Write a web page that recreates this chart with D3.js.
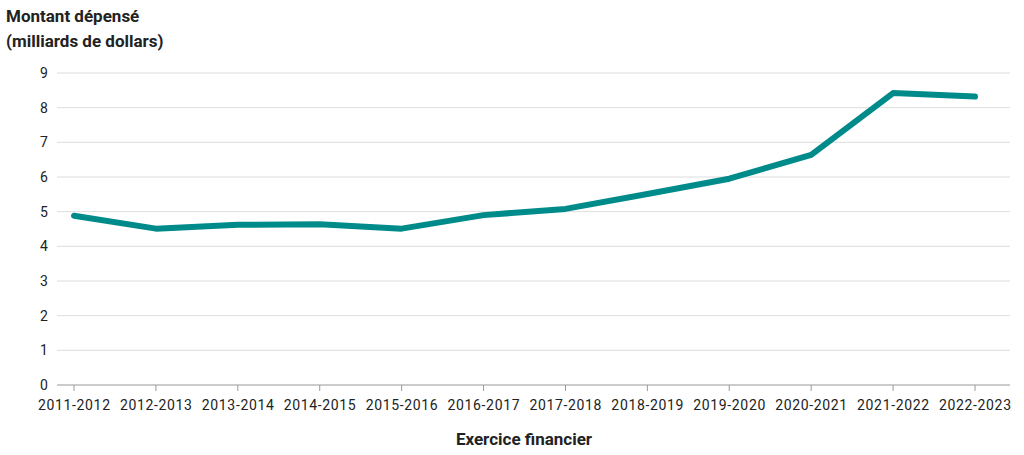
<!DOCTYPE html>
<html><head><meta charset="utf-8">
<script src="https://cdn.jsdelivr.net/npm/d3@7"></script>
<style>body{margin:0;background:#fff}svg{font-family:Roboto,"Open Sans",sans-serif}</style>
</head><body><svg id="c" width="1024" height="455"></svg>
<script>
const categories=["2011-2012","2012-2013","2013-2014","2014-2015","2015-2016","2016-2017","2017-2018","2018-2019","2019-2020","2020-2021","2021-2022","2022-2023"];
const values=[4.88,4.51,4.62,4.64,4.51,4.9,5.08,5.51,5.95,6.64,8.42,8.32];
const yTicks=[0,1,2,3,4,5,6,7,8,9];
const svg=d3.select("#c");
const x=d3.scalePoint().domain(categories).range([74,975]);
const y=d3.scaleLinear().domain([0,9]).range([385,73]);
const g=svg.append("g");
yTicks.forEach(t=>{
  g.append("line").attr("x1",57).attr("x2",1010).attr("y1",y(t)).attr("y2",y(t)).attr("stroke",t===0?"#999":"#ddd").attr("stroke-width",1);
  g.append("text").attr("x",44).attr("y",y(t)).attr("dy","0.35em").attr("text-anchor","middle").attr("font-size",14).attr("fill","#222").text(t);
});
categories.forEach(c=>{
  g.append("line").attr("x1",x(c)).attr("x2",x(c)).attr("y1",385).attr("y2",391).attr("stroke","#999");
  g.append("text").attr("x",x(c)).attr("y",410).attr("text-anchor","middle").attr("font-size",14).attr("fill","#222").attr("textLength",72).text(c);
});
g.append("path").datum(values).attr("fill","none").attr("stroke","#008b8b").attr("stroke-width",6).attr("stroke-linejoin","round").attr("stroke-linecap","round")
 .attr("d",d3.line().x((d,i)=>x(categories[i])).y(d=>y(d)));
svg.append("text").attr("x",6).attr("y",22).attr("font-size",17).attr("font-weight","bold").attr("fill","#222").text("Montant dépensé");
svg.append("text").attr("x",6).attr("y",47).attr("font-size",17).attr("font-weight","bold").attr("fill","#222").text("(milliards de dollars)");
svg.append("text").attr("x",524).attr("y",445).attr("text-anchor","middle").attr("font-size",17).attr("font-weight","bold").attr("fill","#222").text("Exercice financier");
</script></body></html>
